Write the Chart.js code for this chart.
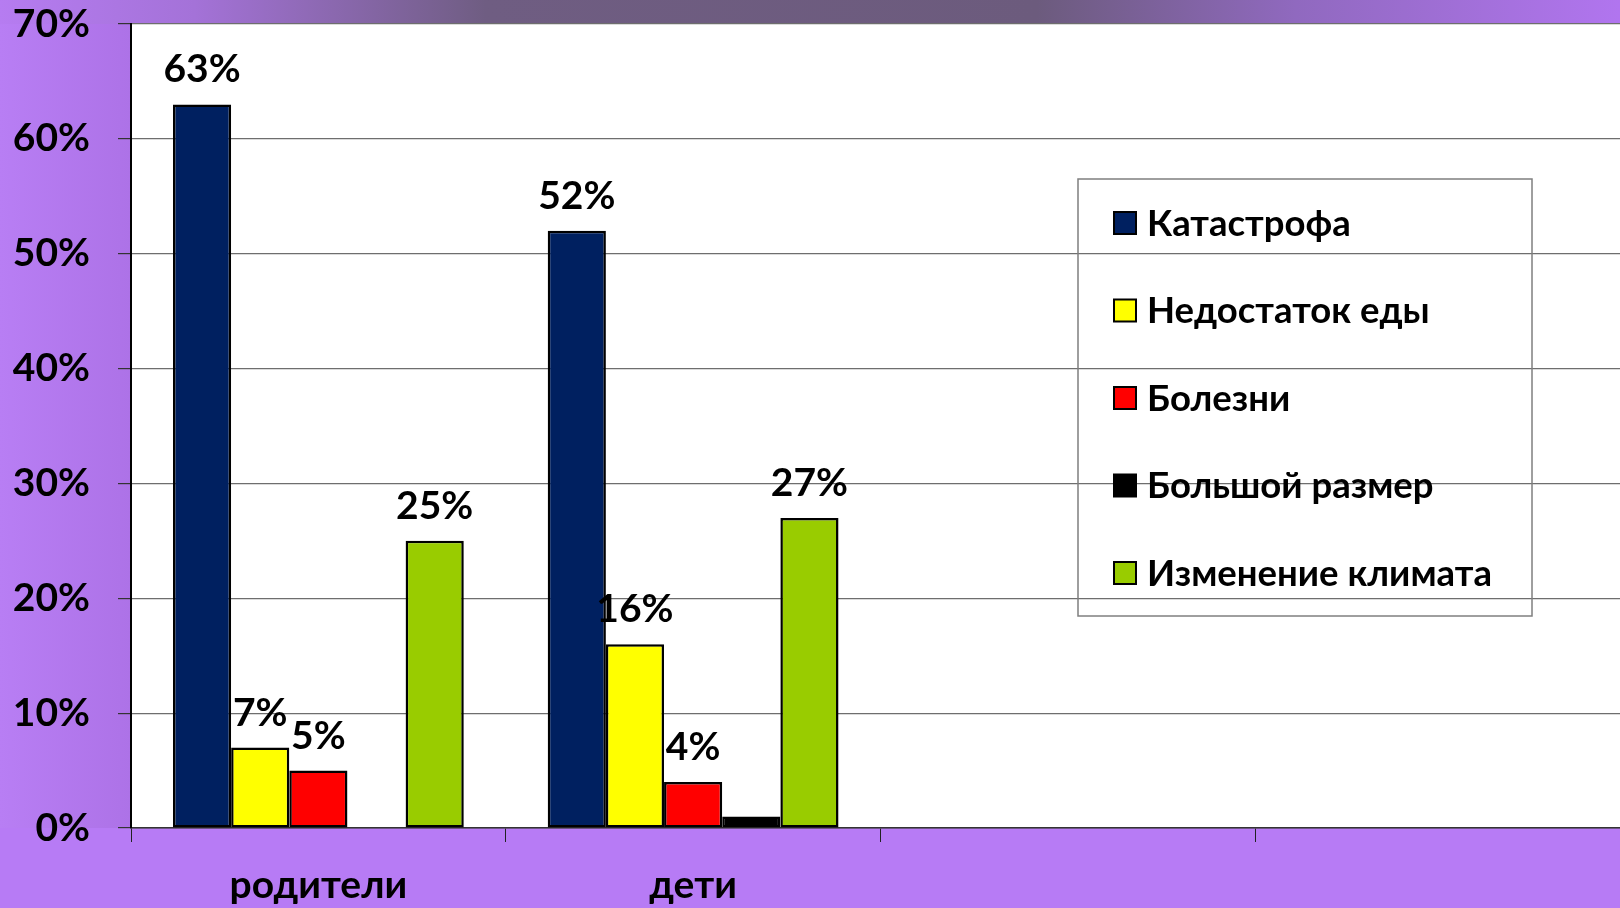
<!DOCTYPE html>
<html lang="ru">
<head>
<meta charset="utf-8">
<title>Причины вымирания динозавров</title>
<script src="https://cdn.jsdelivr.net/npm/chart.js@4.4.1/dist/chart.umd.min.js"></script>
<style>
    html, body { margin: 0; padding: 0; background: #b77bf5; overflow: hidden; }
    #chart { display: block; }
</style>
</head>
<body>
<canvas id="chart" width="1630" height="908"></canvas>
<script>
// данные с диаграммы (проценты)
const categories = ['родители', 'дети', '', ''];
const seriesNames = ['Катастрофа', 'Недостаток еды', 'Болезни', 'Большой размер', 'Изменение климата'];
const catastrophe = [63, 52, null, null];
const foodShortage = [7, 16, null, null];
const diseases = [5, 4, null, null];
const bigSize = [0, 1, null, null];
const climateChange = [25, 27, null, null];
const seriesColors = ['#002060', '#ffff00', '#ff0000', '#000000', '#99cc00'];
const showValueLabels = [true, true, true, false, true];

const FONT = 'Lato, "Open Sans", sans-serif';

const allSeries = [catastrophe, foodShortage, diseases, bigSize, climateChange];

const datasets = allSeries.map((values, i) => ({
    label: seriesNames[i],
    data: values,
    backgroundColor: seriesColors[i],
    borderColor: '#000',
    borderWidth: 2.5,
    borderSkipped: false,
    categoryPercentage: 0.776,
    barPercentage: 1.0,
}));

// фон слайда + белая область построения
const backgroundPlugin = {
    id: 'slideBackground',
    beforeDraw: (chart) => {
        const { ctx, chartArea } = chart;
        const width = 1620, height = chart.height;
        ctx.save();
        ctx.fillStyle = '#b77bf5';
        ctx.fillRect(0, 0, chart.width, height);

        const side = ctx.createLinearGradient(0, 0, chartArea.left, 0);
        side.addColorStop(0, '#b87ef4');
        side.addColorStop(1, '#ad72e7');
        ctx.fillStyle = side;
        ctx.fillRect(0, 0, chartArea.left, chartArea.bottom);

        const band = ctx.createLinearGradient(0, 0, width, 0);
        band.addColorStop(0, '#b67cf1');
        band.addColorStop(0.12, '#a472d8');
        band.addColorStop(0.3, '#6f5d82');
        band.addColorStop(0.64, '#6c5b7d');
        band.addColorStop(0.8, '#9069bf');
        band.addColorStop(1, '#b175ef');
        ctx.fillStyle = band;
        ctx.fillRect(0, 0, chart.width, chartArea.top);

        ctx.fillStyle = '#ffffff';
        ctx.fillRect(chartArea.left, chartArea.top, chartArea.right - chartArea.left, chartArea.bottom - chartArea.top);
        ctx.restore();
    }
};

// подписи значений над столбцами
const valueLabelsPlugin = {
    id: 'valueLabels',
    afterDatasetsDraw: (chart) => {
        const { ctx } = chart;
        ctx.save();
        ctx.font = 'bold 39px ' + FONT;
        ctx.fillStyle = '#000';
        ctx.textAlign = 'center';
        ctx.textBaseline = 'alphabetic';
        chart.data.datasets.forEach((ds, i) => {
            if (!showValueLabels[i]) return;
            chart.getDatasetMeta(i).data.forEach((bar, j) => {
                const v = ds.data[j];
                if (v == null || v === 0) return;
                ctx.fillText(v + '%', bar.x, bar.y - 22);
            });
        });
        ctx.restore();
    }
};

// легенда внутри области построения (прозрачная рамка)
const boxLegendPlugin = {
    id: 'boxLegend',
    afterDraw: (chart, args, opts) => {
        const { ctx } = chart;
        ctx.save();
        ctx.strokeStyle = '#7f7f7f';
        ctx.lineWidth = 1.5;
        ctx.strokeRect(opts.left, opts.top, opts.width, opts.height);

        ctx.font = 'bold 36.5px ' + FONT;
        ctx.textAlign = 'left';
        ctx.textBaseline = 'middle';
        chart.data.datasets.forEach((ds, i) => {
            const cy = opts.firstY + i * opts.step;
            ctx.fillStyle = ds.backgroundColor;
            ctx.fillRect(opts.markerX, cy - 11, 22, 22);
            ctx.strokeStyle = '#000';
            ctx.lineWidth = 2;
            ctx.strokeRect(opts.markerX, cy - 11, 22, 22);
            ctx.fillStyle = '#000';
            ctx.fillText(ds.label, opts.markerX + 33, cy + 1);
        });
        ctx.restore();
    }
};

new Chart(document.getElementById('chart').getContext('2d'), {
    type: 'bar',
    data: { labels: categories, datasets: datasets },
    plugins: [backgroundPlugin, valueLabelsPlugin, boxLegendPlugin],
    options: {
        responsive: false,
        animation: false,
        layout: { padding: { top: 24, right: 0, left: 0, bottom: 0 } },
        plugins: {
            legend: { display: false },
            tooltip: { enabled: false },
            title: { display: false },
            boxLegend: { left: 1078, top: 179, width: 454, height: 437, markerX: 1114, firstY: 223, step: 87.5 }
        },
        scales: {
            x: {
                offset: true,
                grid: { display: true, offset: true, drawOnChartArea: false, drawTicks: true, tickLength: 14, color: '#222', lineWidth: 1 },
                border: { display: true, color: '#333', width: 1.5 },
                ticks: { color: '#000', font: { family: FONT, size: 39, weight: 'bold' }, padding: 20, maxRotation: 0, autoSkip: false },
                afterFit: (scale) => { scale.height = 80; }
            },
            y: {
                min: 0,
                max: 70,
                grid: { color: '#6e6e6e', lineWidth: 1.2, tickLength: 13, tickColor: '#333' },
                border: { display: true, color: '#000', width: 2 },
                ticks: {
                    stepSize: 10,
                    color: '#000',
                    font: { family: FONT, size: 39, weight: 'bold' },
                    padding: 28,
                    callback: (v) => v + '%'
                },
                afterFit: (scale) => {
                    scale.width = 131;
                    scale.paddingTop = 0;
                    scale.paddingBottom = 0;
                }
            }
        }
    }
});
</script>
</body>
</html>
